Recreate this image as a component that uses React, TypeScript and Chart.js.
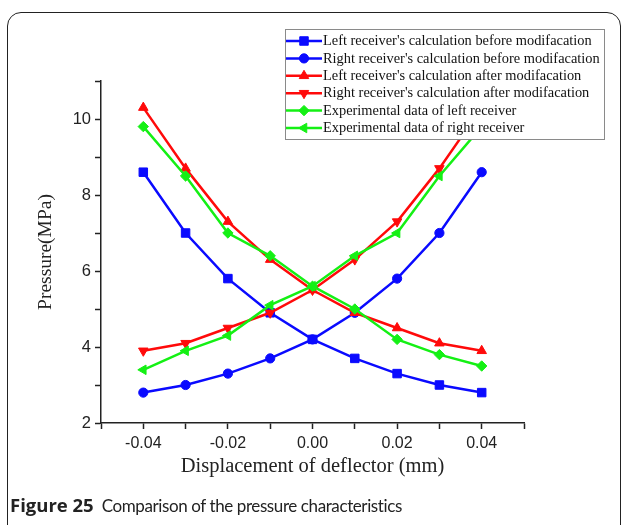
import React, { useEffect, useRef } from 'react';
import { Chart, registerables } from 'chart.js';
import * as helpers from 'chart.js/helpers';

Chart.register(...registerables);

// ---- data ----
const displacement = [-0.04, -0.03, -0.02, -0.01, 0, 0.01, 0.02, 0.03, 0.04];
const leftBefore = [8.6, 7.0, 5.8, 4.9, 4.2, 3.7, 3.3, 3.0, 2.8];
const rightBefore = [2.8, 3.0, 3.3, 3.7, 4.2, 4.9, 5.8, 7.0, 8.6];
const leftAfter = [10.3, 8.7, 7.3, 6.3, 5.5, 4.9, 4.5, 4.1, 3.9];
const rightAfter = [3.9, 4.1, 4.5, 4.9, 5.5, 6.3, 7.3, 8.7, 10.3];
const leftExperimental = [9.8, 8.5, 7.0, 6.4, 5.6, 5.0, 4.2, 3.8, 3.5];
const rightExperimental = [3.4, 3.9, 4.3, 5.1, 5.6, 6.4, 7.0, 8.5, 9.8];

const seriesLabels = [
  "Left receiver's calculation before modifacation",
  "Right receiver's calculation before modifacation",
  "Left receiver's calculation after modifacation",
  "Right receiver's calculation after modifacation",
  'Experimental data of left receiver',
  'Experimental data of right receiver',
];
const yTickLabels = [2, 4, 6, 8, 10];
const xTickLabels = [-0.04, -0.02, 0, 0.02, 0.04];
const xTitle = 'Displacement of deflector (mm)';
const yTitle = 'Pressure(MPa)';

const BLUE = '#0a0aff';
const RED = '#ff0a0a';
const GREEN = '#14f014';

const toPoints = (arr: number[]) => displacement.map((x, i) => ({ x, y: arr[i] }));

const legendPlugin = {
  id: 'boxLegend',
  afterDraw(chart: any) {
    const ctx = chart.ctx as CanvasRenderingContext2D;
    const bx = 285, by = 29, bw = 319, bh = 110;
    ctx.save();
    ctx.fillStyle = '#ffffff';
    ctx.fillRect(bx, by, bw, bh);
    ctx.strokeStyle = '#8a8a8a';
    ctx.lineWidth = 1;
    ctx.strokeRect(bx + 0.5, by + 0.5, bw, bh);
    const rowH = 17.4;
    const y0 = by + 12;
    chart.data.datasets.forEach((ds: any, i: number) => {
      const y = y0 + i * rowH;
      ctx.strokeStyle = ds.borderColor;
      ctx.lineWidth = 2.5;
      ctx.beginPath();
      ctx.moveTo(bx + 1, y);
      ctx.lineTo(bx + 37, y);
      ctx.stroke();
      ctx.fillStyle = ds.backgroundColor;
      ctx.strokeStyle = ds.borderColor;
      ctx.lineWidth = 1;
      helpers.drawPoint(
        ctx,
        { pointStyle: ds.pointStyle, rotation: ds.pointRotation || 0, radius: ds.pointRadius, borderWidth: 1 } as any,
        bx + 19,
        y
      );
      ctx.fillStyle = '#111';
      ctx.font = '14.4px "Liberation Serif"';
      ctx.textBaseline = 'middle';
      ctx.textAlign = 'left';
      ctx.fillText(ds.label, bx + 38, y + 0.5);
    });
    ctx.restore();
  },
};

export default function App() {
  const ref = useRef<HTMLCanvasElement>(null);

  useEffect(() => {
    if (!ref.current) return;
    const mk = (label: string, arr: number[], color: string, style: string, radius: number, rotation: number, order: number) => ({
      label,
      data: toPoints(arr),
      borderColor: color,
      backgroundColor: color,
      borderWidth: 2.5,
      pointStyle: style,
      pointRadius: radius,
      pointRotation: rotation,
      pointBorderWidth: 1,
      pointHoverRadius: radius,
      tension: 0,
      order,
    });
    const chart = new Chart(ref.current, {
      type: 'line',
      data: {
        datasets: [
          mk(seriesLabels[0], leftBefore, BLUE, 'rect', 6, 0, 3),
          mk(seriesLabels[1], rightBefore, BLUE, 'circle', 4.6, 0, 3),
          mk(seriesLabels[2], leftAfter, RED, 'triangle', 5.5, 0, 2),
          mk(seriesLabels[3], rightAfter, RED, 'triangle', 5.5, 180, 2),
          mk(seriesLabels[4], leftExperimental, GREEN, 'rectRot', 5.2, 0, 1),
          mk(seriesLabels[5], rightExperimental, GREEN, 'triangle', 5.5, 270, 1),
        ] as any,
      },
      options: {
        animation: false,
        responsive: false,
        devicePixelRatio: 1,
        layout: { padding: { left: 0, right: 103, top: 81, bottom: 0 } },
        plugins: { legend: { display: false }, tooltip: { enabled: false } },
        scales: {
          x: {
            type: 'linear',
            min: -0.05,
            max: 0.05,
            afterFit: (s: any) => { s.height = 102; },
            border: { display: true, color: '#222', width: 1.5 },
            grid: { display: true, drawOnChartArea: false, drawTicks: true, tickLength: 6, tickWidth: 1.5, tickColor: '#222' },
            ticks: {
              stepSize: 0.01,
              autoSkip: false,
              maxRotation: 0,
              padding: 5,
              color: '#222',
              font: { family: '"Liberation Sans"', size: 16 },
              callback: (v: any) => {
                const n = Math.round(Number(v) * 100);
                const hit = xTickLabels.find((t) => Math.round(t * 100) === n);
                return hit === undefined ? '' : hit.toFixed(2);
              },
            },
            title: {
              display: true,
              text: xTitle,
              color: '#222',
              font: { family: '"Liberation Serif"', size: 20.5 },
              padding: { top: 0, bottom: 46 },
            },
          },
          y: {
            type: 'linear',
            min: 2,
            max: 11,
            afterFit: (s: any) => { s.width = 101; },
            border: { display: true, color: '#222', width: 1.5 },
            grid: { display: true, drawOnChartArea: false, drawTicks: true, tickLength: 6, tickWidth: 1.5, tickColor: '#222' },
            ticks: {
              stepSize: 1,
              autoSkip: false,
              padding: 4,
              color: '#222',
              font: { family: '"Liberation Sans"', size: 16.5 },
              callback: (v: any) => {
                const n = Math.round(Number(v));
                return yTickLabels.includes(n) ? String(n) : '';
              },
            },
            title: {
              display: true,
              text: yTitle,
              color: '#222',
              font: { family: '"Liberation Serif"', size: 19.5 },
              padding: { top: 34, bottom: 0 },
            },
          },
        },
      },
      plugins: [legendPlugin],
    } as any);
    return () => chart.destroy();
  }, []);

  return (
    <div style={{ position: 'fixed', left: 0, top: 0, width: 627, height: 525, overflow: 'hidden', background: '#fff' }}>
      <div
        style={{
          position: 'absolute',
          left: 7,
          top: 12,
          width: 612,
          height: 600,
          border: '1.5px solid #222',
          borderRadius: 14,
        }}
      />
      <canvas ref={ref} width={627} height={525} style={{ position: 'absolute', left: 0, top: 0, width: 627, height: 525 }} />
      <div
        style={{
          position: 'absolute',
          left: 10,
          top: 495,
          fontSize: 18,
          lineHeight: '20px',
          color: '#222',
          whiteSpace: 'nowrap',
        }}
      >
        <span style={{ fontFamily: '"Open Sans", Lato, sans-serif', fontWeight: 700, fontSize: 18.5 }}>Figure 25</span>
        <span style={{ fontFamily: 'Lato, "Noto Sans", sans-serif', fontSize: 17, letterSpacing: -0.4, marginLeft: 8 }}>
          Comparison of the pressure characteristics
        </span>
      </div>
    </div>
  );
}
